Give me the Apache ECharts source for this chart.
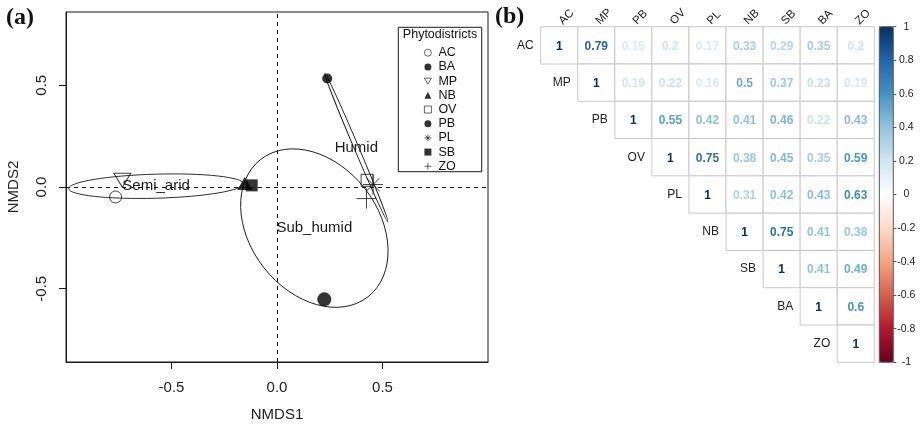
<!DOCTYPE html>
<html>
<head>
<meta charset="utf-8">
<script src="https://cdn.jsdelivr.net/npm/echarts@6/dist/echarts.min.js"></script>
<style>
html,body{margin:0;padding:0;background:#fff;}
#chart{width:923px;height:427px;}
</style>
</head>
<body>
<div id="chart"></div>
<script>
// ---------- Panel (a): NMDS ----------
const districts = ['AC', 'BA', 'MP', 'NB', 'OV', 'PB', 'PL', 'SB', 'ZO'];
const nmds1 = [-0.765, 0.224, -0.733, -0.153, 0.427, 0.238, 0.455, -0.12, 0.424];
const nmds2 = [-0.049, -0.552, 0.033, 0.017, 0.033, 0.533, 0.012, 0.008, -0.057];
const nmdsTicks = [-0.5, 0, 0.5];

// climatic zone ellipses: centre, semi-axes, orientation (deg)
const zones = ['Semi_arid', 'Sub_humid', 'Humid'];
const zoneCx = [-0.573, 0.177, 0.376];
const zoneCy = [0.004, -0.202, 0.194];
const zoneA = [0.414, 0.413, 0.382];
const zoneB = [0.057, 0.304, 0.011];
const zoneAngle = [1.6, -52, -67];

// ---------- Panel (b): correlation matrix ----------
const corrLabels = ['AC', 'MP', 'PB', 'OV', 'PL', 'NB', 'SB', 'BA', 'ZO'];
const corrRows = [
  [1, 0.79, 0.15, 0.2, 0.17, 0.33, 0.29, 0.35, 0.2],
  [1, 0.19, 0.22, 0.16, 0.5, 0.37, 0.23, 0.19],
  [1, 0.55, 0.42, 0.41, 0.46, 0.22, 0.43],
  [1, 0.75, 0.38, 0.45, 0.35, 0.59],
  [1, 0.31, 0.42, 0.43, 0.63],
  [1, 0.75, 0.41, 0.38],
  [1, 0.41, 0.49],
  [1, 0.6],
  [1]
];
const colorbarTicks = [-1, -0.8, -0.6, -0.4, -0.2, 0, 0.2, 0.4, 0.6, 0.8, 1];

const FONT = 'Liberation Sans';
const chart = echarts.init(document.getElementById('chart'));

const symbolStyles = {
  AC: {symbol: 'circle', size: 12, hollow: true},
  BA: {symbol: 'circle', size: 14, hollow: false},
  MP: {symbol: 'path://M0,0L10,0L5,8.66Z', size: [17, 14], hollow: true},
  NB: {symbol: 'triangle', size: [15, 13], hollow: false},
  OV: {symbol: 'rect', size: 12, hollow: true},
  PB: {symbol: 'circle', size: 10, hollow: false},
  PL: {symbol: 'path://M5,0L5,10M0,5L10,5M1.6,1.6L8.4,8.4M1.6,8.4L8.4,1.6', size: 20, hollow: true},
  SB: {symbol: 'rect', size: 12, hollow: false},
  ZO: {symbol: 'path://M5,0L5,10M0,5L10,5', size: 20, hollow: true}
};

const series = [];

// ellipses + zone labels
series.push({
  type: 'custom',
  xAxisIndex: 0, yAxisIndex: 0,
  silent: true,
  z: 2,
  data: zones.map((z, i) => [zoneCx[i], zoneCy[i], zoneA[i], zoneB[i], zoneAngle[i], i]),
  renderItem: function (params, api) {
    const c = api.coord([api.value(0), api.value(1)]);
    const rx = api.size([api.value(2), 0])[0];
    const ry = api.size([api.value(3), 0])[0];
    const rot = api.value(4) * Math.PI / 180;
    return {
      type: 'group',
      children: [
        {
          type: 'ellipse',
          x: c[0], y: c[1], rotation: rot,
          shape: {cx: 0, cy: 0, rx: rx, ry: ry},
          style: {fill: 'none', stroke: '#1a1a1a', lineWidth: 0.9}
        },
        {
          type: 'text',
          x: c[0], y: c[1],
          style: {text: zones[api.value(5)], align: 'center', verticalAlign: 'middle',
                   font: '15px "' + FONT + '"', fill: '#1a1a1a'}
        }
      ]
    };
  },
  markLine: {
    silent: true, symbol: ['none', 'none'], label: {show: false},
    lineStyle: {type: [4, 4], color: '#111', width: 1},
    data: [{xAxis: 0}, {yAxis: 0}]
  }
});

districts.forEach((d, i) => {
  const s = symbolStyles[d];
  series.push({
    name: d,
    type: 'scatter',
    xAxisIndex: 0, yAxisIndex: 0,
    z: 3,
    symbol: s.symbol,
    symbolSize: s.size,
    itemStyle: s.hollow
      ? {color: 'rgba(0,0,0,0)', borderColor: '#111', borderWidth: 1}
      : {color: '#000', borderWidth: 0},
    data: [[nmds1[i], nmds2[i]]]
  });
});

// correlation cells
const corrData = [];
corrRows.forEach((row, i) => {
  row.forEach((v, k) => corrData.push([i + k, i, v]));
});
const corrSeriesIndex = series.length;
series.push({
  type: 'custom',
  xAxisIndex: 1, yAxisIndex: 1,
  silent: true,
  data: corrData,
  encode: {x: 0, y: 1},
  renderItem: function (params, api) {
    const xi = api.value(0), yi = api.value(1), v = api.value(2);
    const c = api.coord([xi, yi]);
    const sz = api.size([1, 1]);
    const children = [
      {
        type: 'rect',
        shape: {x: c[0] - sz[0] / 2, y: c[1] - sz[1] / 2, width: sz[0], height: sz[1]},
        style: {fill: '#fff', stroke: '#c9c9c9', lineWidth: 1}
      },
      {
        type: 'text', x: c[0], y: c[1] + 1,
        style: {text: String(v), align: 'center', verticalAlign: 'middle',
                font: 'bold 12px "' + FONT + '"', fill: api.visual('color')}
      }
    ];
    if (xi === yi) {
      children.push({
        type: 'text', x: c[0] - sz[0] / 2 - 7, y: c[1],
        style: {text: corrLabels[yi], align: 'right', verticalAlign: 'middle',
                font: '12px "' + FONT + '"', fill: '#222'}
      });
    }
    if (yi === 0) {
      // column label, rotated 45 degrees above the column
      children.push({
        type: 'text', x: c[0] + 1.5, y: c[1] - sz[1] / 2 - 4,
        rotation: Math.PI / 4,
        style: {text: corrLabels[xi], align: 'left', verticalAlign: 'middle',
                font: '11.5px "' + FONT + '"', fill: '#222'}
      });
    }
    return {type: 'group', children: children};
  }
});

const option = {
  animation: false,
  textStyle: {fontFamily: FONT},
  grid: [
    {left: 66, top: 12, width: 422, height: 351, show: true, borderColor: '#1a1a1a', borderWidth: 1, backgroundColor: 'rgba(0,0,0,0)'},
    {left: 540.7, top: 26.7, width: 333.6, height: 335.6},
    {left: 879.3, top: 26.7, width: 14, height: 335.6}
  ],
  xAxis: [
    {
      gridIndex: 0, type: 'value', min: -1, max: 1, interval: 0.5,
      splitLine: {show: false}, axisLine: {show: true, onZero: false, lineStyle: {color: '#1a1a1a', width: 1}},
      axisTick: {show: true, length: 7, customValues: nmdsTicks, lineStyle: {color: '#1a1a1a', width: 1}},
      axisLabel: {customValues: nmdsTicks, formatter: v => v.toFixed(1), fontSize: 15, color: '#222', margin: 18},
      name: 'NMDS1', nameLocation: 'middle', nameGap: 45,
      nameTextStyle: {fontSize: 15, color: '#222'}
    },
    {
      gridIndex: 1, type: 'category', position: 'top', data: corrLabels,
      axisLine: {show: false, onZero: false}, axisTick: {show: false}, splitLine: {show: false},
      axisLabel: {show: false}
    },
    {gridIndex: 2, type: 'value', show: false}
  ],
  yAxis: [
    {
      gridIndex: 0, type: 'value', min: -0.86, max: 0.86,
      splitLine: {show: false}, axisLine: {show: true, onZero: false, lineStyle: {color: '#1a1a1a', width: 1}},
      axisTick: {show: true, length: 7, customValues: nmdsTicks, lineStyle: {color: '#1a1a1a', width: 1}},
      axisLabel: {customValues: nmdsTicks, formatter: v => v.toFixed(1), fontSize: 15, color: '#222', margin: 17, rotate: 90},
      name: 'NMDS2', nameLocation: 'middle', nameGap: 45, nameRotate: 90,
      nameTextStyle: {fontSize: 15, color: '#222'}
    },
    {
      gridIndex: 1, type: 'category', inverse: true, data: corrLabels,
      axisLine: {show: false, onZero: false}, axisTick: {show: false}, axisLabel: {show: false}, splitLine: {show: false}
    },
    {
      gridIndex: 2, type: 'value', position: 'right', min: -1, max: 1, interval: 0.2,
      splitLine: {show: false}, axisLine: {show: false, onZero: false},
      axisTick: {show: true, length: 3, inside: false, lineStyle: {color: '#555'}},
      axisLabel: {fontSize: 10.5, color: '#222', align: 'center', margin: 13,
                  customValues: colorbarTicks, padding: [3, 0, 0, 0],
                  formatter: v => String(parseFloat(v.toFixed(1)))}
    }
  ],
  visualMap: {
    type: 'continuous', min: -1, max: 1, dimension: 2,
    seriesIndex: corrSeriesIndex,
    calculable: false, hoverLink: false, text: null, showLabel: false,
    left: 879.3, top: 26.7, itemWidth: 14, itemHeight: 335.6, padding: 0,
    inRange: {color: ['#67001F', '#B2182B', '#D6604D', '#F4A582', '#FDDBC7', '#FFFFFF',
                      '#D1E5F0', '#92C5DE', '#4393C3', '#2166AC', '#053061']}
  },
  legend: {
    data: districts.map(d => ({name: d, itemStyle: symbolStyles[d].hollow ? {borderWidth: 0.8} : {}})),
    orient: 'vertical',
    left: 424, top: 46.2, padding: 0,
    itemWidth: 7, itemHeight: 7, itemGap: 1.2,
    selectedMode: false,
    textStyle: {fontSize: 12.5, color: '#111', lineHeight: 13, fontFamily: FONT, padding: [0, 0, 0, 2]}
  },
  graphic: [
    {type: 'rect', shape: {x: 398.3, y: 27.3, width: 83.4, height: 144.4},
     style: {fill: '#fff', stroke: '#1a1a1a', lineWidth: 1}, z: 0},
    {type: 'text', x: 440, y: 34.5, style: {text: 'Phytodistricts', font: '12.5px "' + FONT + '"', fill: '#111', align: 'center', verticalAlign: 'middle'}, z: 10},
    {type: 'text', x: 6, y: 18, style: {text: '(a)', font: 'bold 24px "Liberation Serif"', fill: '#111', verticalAlign: 'middle'}, z: 10},
    {type: 'text', x: 495, y: 17, style: {text: '(b)', font: 'bold 24px "Liberation Serif"', fill: '#111', verticalAlign: 'middle'}, z: 10},
    {type: 'rect', shape: {x: 879.3, y: 26.7, width: 14, height: 335.6},
     style: {fill: 'none', stroke: '#555', lineWidth: 1}, z: 20}
  ],
  series: series
};
chart.setOption(option);
</script>
</body>
</html>
